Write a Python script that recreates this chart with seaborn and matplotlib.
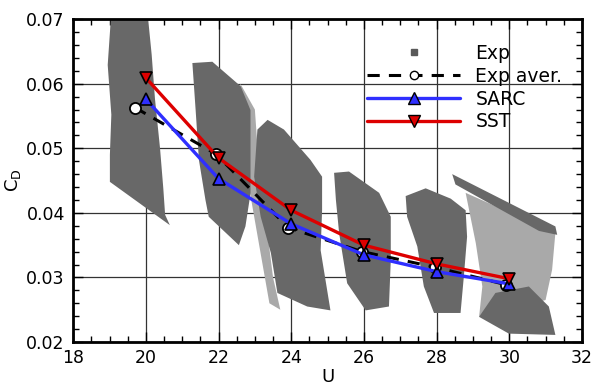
import numpy as np
import seaborn as sns
import matplotlib.pyplot as plt
from matplotlib.lines import Line2D
from matplotlib.ticker import MultipleLocator

# simulation / averaged data
u_sim = [20, 22, 24, 26, 28, 30]
cd_sarc = [0.0576, 0.0453, 0.0383, 0.0335, 0.0309, 0.0290]
cd_sst = [0.0609, 0.0485, 0.0404, 0.0350, 0.0321, 0.0298]
u_aver = [19.7, 21.93, 23.92, 25.95, 27.95, 29.9]
cd_aver = [0.0563, 0.0491, 0.0377, 0.0340, 0.0316, 0.0289]

cloud1_u = [19.06, 18.95, 19.05, 19.01, 19.01, 20.66, 20.53, 20.48, 20.39, 20.25, 20.16, 20.07, 20.07, 19.06]
cloud1_cd = [0.0720, 0.0629, 0.0552, 0.0490, 0.0448, 0.0381, 0.0397, 0.0438, 0.0500, 0.0577, 0.0645, 0.0696, 0.0720, 0.0720]
cloud2_u = [21.28, 21.37, 21.46, 21.64, 21.73, 22.56, 22.74, 22.88, 22.88, 22.88, 22.61, 21.83]
cloud2_cd = [0.0632, 0.0559, 0.0482, 0.0420, 0.0394, 0.0350, 0.0379, 0.0430, 0.0482, 0.0559, 0.0596, 0.0634]
wing2_u = [22.6, 23.0, 23.1, 23.5, 23.7, 23.4, 22.9, 22.6]
wing2_cd = [0.0600, 0.0560, 0.0480, 0.0300, 0.0250, 0.0260, 0.0420, 0.0520]
cloud3_u = [23.07, 23.35, 23.80, 24.53, 24.85, 24.85, 24.81, 25.08, 24.44, 23.62, 23.44, 23.16, 22.98]
cloud3_cd = [0.0529, 0.0544, 0.0529, 0.0482, 0.0456, 0.0404, 0.0342, 0.0249, 0.0255, 0.0276, 0.0338, 0.0394, 0.0456]
cloud4_u = [25.18, 25.59, 26.42, 26.74, 26.74, 26.69, 26.05, 25.54, 25.32, 25.23]
cloud4_cd = [0.0462, 0.0464, 0.0431, 0.0394, 0.0327, 0.0255, 0.0249, 0.0291, 0.0368, 0.0420]
cloud5_u = [27.15, 27.70, 28.39, 28.80, 28.84, 28.75, 28.66, 27.93, 27.65, 27.47, 27.19]
cloud5_cd = [0.0426, 0.0438, 0.0422, 0.0404, 0.0363, 0.0301, 0.0245, 0.0245, 0.0286, 0.0348, 0.0394]
band6_u = [28.43, 31.27, 31.32, 30.82, 28.52]
band6_cd = [0.0460, 0.0379, 0.0366, 0.0372, 0.0444]
body6_u = [28.80, 31.27, 31.18, 31.00, 29.17, 29.26, 29.08]
body6_cd = [0.0431, 0.0369, 0.0312, 0.0265, 0.0239, 0.0286, 0.0353]
blob6_u = [29.62, 30.54, 31.09, 31.27, 29.99, 29.17]
blob6_cd = [0.0276, 0.0286, 0.0255, 0.0211, 0.0213, 0.0239]

sparse_clouds = [(wing2_u, wing2_cd), (body6_u, body6_cd)]
dense_clouds = [(cloud1_u, cloud1_cd), (cloud2_u, cloud2_cd), (cloud3_u, cloud3_cd),
                (cloud4_u, cloud4_cd), (cloud5_u, cloud5_cd), (band6_u, band6_cd),
                (blob6_u, blob6_cd)]

sns.set_style("ticks")
plt.rcParams['font.family'] = ['DejaVu Sans']
plt.rcParams['text.color'] = 'black'

fig, ax = plt.subplots(figsize=(5.95, 3.9), dpi=100)
fig.subplots_adjust(left=0.123, right=0.978, top=0.951, bottom=0.123)

gray = "#595959"
for cu, ccd in sparse_clouds:
    ax.fill(cu, ccd, color="#a9a9a9", lw=0, zorder=1)
for cu, ccd in dense_clouds:
    ax.fill(cu, ccd, color="#686868", lw=0, zorder=1)

sns.lineplot(x=u_aver, y=cd_aver, ax=ax, color="black", lw=2.2, ls=(0, (4, 3)),
             marker="o", markersize=8, markerfacecolor="white", markeredgecolor="black",
             markeredgewidth=1.3, sort=False, zorder=3)
sns.lineplot(x=u_sim, y=cd_sarc, ax=ax, color="#2f2fff", lw=2.4,
             marker="^", markersize=9, markerfacecolor="#2f2fff", markeredgecolor="black",
             markeredgewidth=1.2, sort=False, zorder=4)
sns.lineplot(x=u_sim, y=cd_sst, ax=ax, color="#dd0000", lw=2.4,
             marker="v", markersize=9, markerfacecolor="#dd0000", markeredgecolor="black",
             markeredgewidth=1.2, sort=False, zorder=4)

ax.set_xlim(18, 32)
ax.set_ylim(0.02, 0.07)
ax.xaxis.set_major_locator(MultipleLocator(2))
ax.xaxis.set_minor_locator(MultipleLocator(0.5))
ax.yaxis.set_major_locator(MultipleLocator(0.01))
ax.yaxis.set_minor_locator(MultipleLocator(0.002))
ax.set_yticklabels([f"{v:.2f}" for v in ax.get_yticks()])
ax.set_axisbelow(True)
ax.grid(True, which="major", color="#333333", lw=0.9)
ax.tick_params(which="both", direction="in", top=True, right=True, labelsize=12.5,
               color="black", labelcolor="black")
ax.tick_params(which="major", length=7, width=1)
ax.tick_params(which="minor", length=4, width=1)
ax.tick_params(axis="y", which="major", pad=6)
ax.tick_params(axis="x", which="major", pad=5)
for s in ax.spines.values():
    s.set_linewidth(2)
    s.set_color("black")
    s.set_zorder(6)

ax.set_xlabel("U", fontsize=13, color="black", labelpad=1)
ax.set_ylabel("C$_\\mathregular{D}$", fontsize=13, color="black", labelpad=2)

handles = [
    Line2D([], [], ls="none", marker="s", markersize=4, color=gray),
    Line2D([], [], color="black", lw=2.2, ls=(0, (4, 3)), marker="o", markersize=6,
           markerfacecolor="white", markeredgecolor="black"),
    Line2D([], [], color="#2f2fff", lw=2.4, marker="^", markersize=8,
           markerfacecolor="#2f2fff", markeredgecolor="black"),
    Line2D([], [], color="#dd0000", lw=2.4, marker="v", markersize=8,
           markerfacecolor="#dd0000", markeredgecolor="black"),
]
leg = ax.legend(handles, ["Exp", "Exp aver.", "SARC", "SST"], loc="upper right",
                bbox_to_anchor=(0.995, 0.975), frameon=False, fontsize=13.5,
                handlelength=5.0, labelspacing=0.2, handletextpad=0.8, labelcolor="black")
leg.set_zorder(7)

fig.savefig("out.png", dpi=100)
